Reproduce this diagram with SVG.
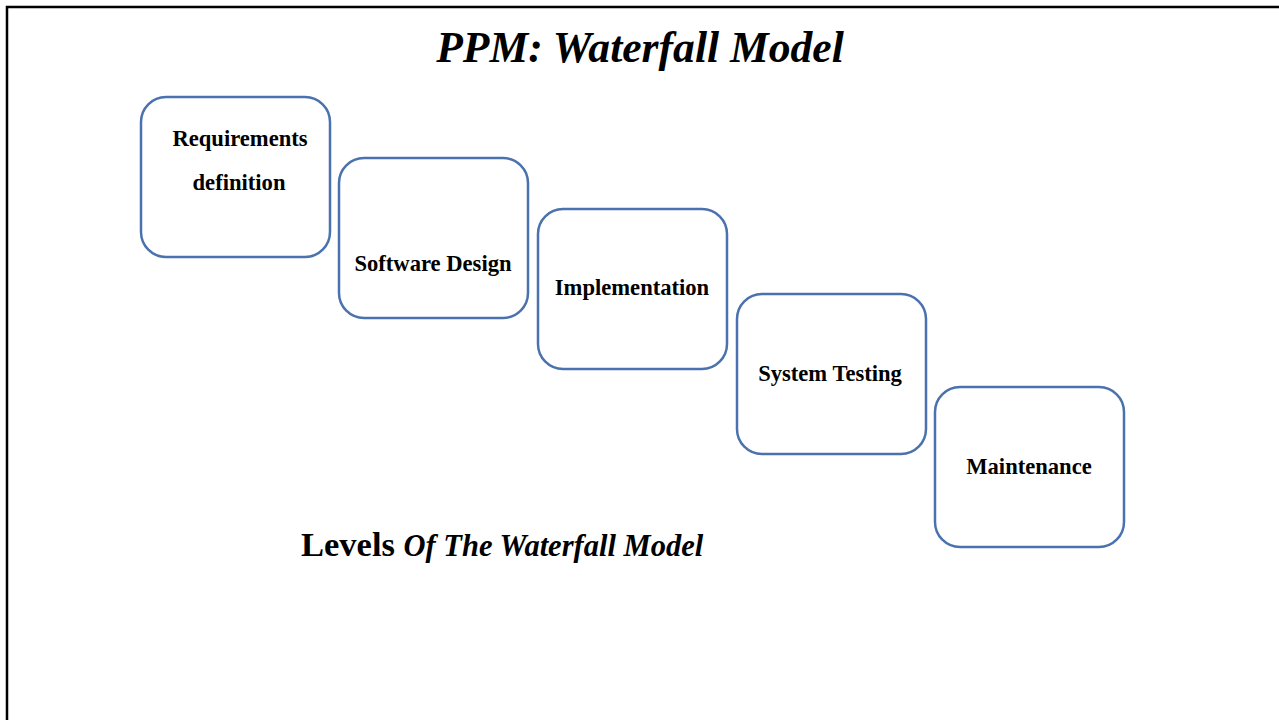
<svg xmlns="http://www.w3.org/2000/svg" width="1279" height="720" viewBox="0 0 1279 720">
<style>
.box{fill:#fff;stroke:#4a72ae;stroke-width:2.5}
.lbl{font-family:"Liberation Serif","Times New Roman",serif;font-weight:bold;font-size:22.6px;text-anchor:middle;fill:#000}
.title{font-family:"Liberation Serif","Times New Roman",serif;font-weight:bold;font-style:italic;font-size:43.6px;text-anchor:middle;fill:#000}
.sub{font-family:"Liberation Serif","Times New Roman",serif;font-weight:bold;fill:#000}
</style>
<rect x="0" y="0" width="1279" height="720" fill="#fff"/>
<path d="M7,720 V7 H1279" fill="none" stroke="#000" stroke-width="2.5"/>
<text class="title" x="640" y="62">PPM: Waterfall Model</text>
<g id="n1"><rect class="box" x="141" y="97" width="189" height="160" rx="25"/>
<text class="lbl" x="240" y="146">Requirements</text><text class="lbl" x="239" y="190">definition</text></g>
<g id="n2"><rect class="box" x="339" y="158" width="189" height="160" rx="25"/>
<text class="lbl" x="433" y="271">Software Design</text></g>
<g id="n3"><rect class="box" x="538" y="209" width="189" height="160" rx="25"/>
<text class="lbl" x="632" y="295">Implementation</text></g>
<g id="n4"><rect class="box" x="737" y="294" width="189" height="160" rx="25"/>
<text class="lbl" x="830" y="381">System Testing</text></g>
<g id="n5"><rect class="box" x="935" y="387" width="189" height="160" rx="25"/>
<text class="lbl" x="1029" y="474">Maintenance</text></g>
<g id="connectors"></g>
<text class="sub" x="301" y="556"><tspan font-size="34.5">Levels </tspan><tspan font-size="30.5" font-style="italic">Of The Waterfall Model</tspan></text>
</svg>
